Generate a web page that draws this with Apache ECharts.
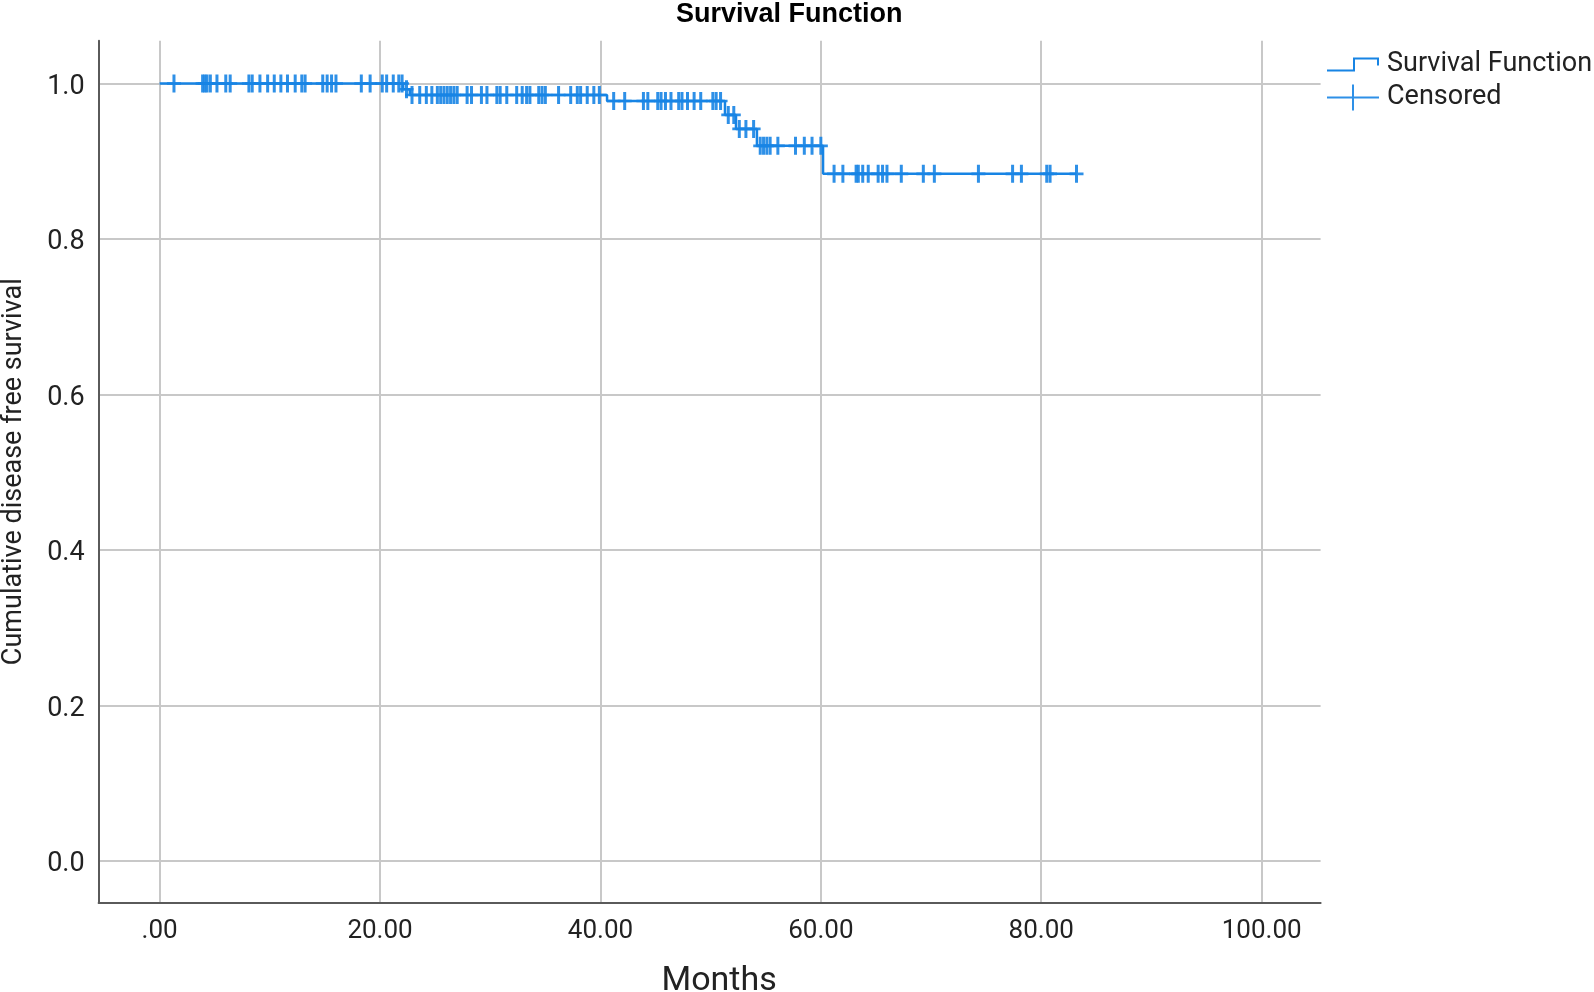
<!DOCTYPE html>
<html>
<head>
<meta charset="utf-8">
<script src="https://cdn.jsdelivr.net/npm/echarts@6/dist/echarts.min.js"></script>
<style>
html,body{margin:0;padding:0;background:#fff;}
#chart{width:1594px;height:992px;}
</style>
</head>
<body>
<div id="chart"></div>
<script>
// Kaplan-Meier step function: event times and survival after each event
var eventTimes = [0, 22.1, 22.7, 40.6, 51.3, 52.3, 54.2, 60.2, 83.2];
var survival   = [1, 0.9926, 0.9851, 0.9775, 0.9596, 0.9416, 0.9198, 0.8838, 0.8838];

// Censored observation times (months)
var censorTimes = [
  1.3, 3.9, 4.1, 4.3, 4.6, 5.2, 6.0, 6.4, 8.1, 8.4, 9.1, 9.8, 10.4, 11.0, 11.6, 12.3, 12.9, 13.2,
  14.8, 15.2, 15.6, 16.0, 18.3, 19.1, 20.2, 20.6, 21.2, 21.7, 22.0,
  22.4,
  22.9, 23.6, 24.2, 24.7, 25.2, 25.5, 25.8, 26.1, 26.4, 26.7, 27.0, 27.9, 28.3, 29.2, 29.7, 30.6,
  30.9, 31.5, 32.4, 32.9, 33.3, 33.6, 34.4, 34.7, 35.0, 36.2, 37.3, 37.9, 38.2, 38.8, 39.4, 39.9,
  41.2, 42.2, 43.9, 44.3, 45.2, 45.5, 45.9, 46.4, 47.1, 47.4, 47.9, 48.5, 49.1, 50.2, 50.5, 50.9,
  51.6, 52.1,
  52.6, 53.2, 53.9,
  54.5, 54.8, 55.1, 55.4, 56.1, 57.7, 58.5, 59.2, 60.0,
  61.2, 62.0, 63.2, 63.4, 63.8, 64.3, 65.2, 65.6, 66.0, 67.3, 69.3, 70.3, 74.3, 77.4, 78.2, 80.5, 80.8, 83.2
];

var xTicks = [0, 20, 40, 60, 80, 100];
var yTicks = [0, 0.2, 0.4, 0.6, 0.8, 1.0];

var blue = '#1784e4';

function survAt(t) {
  var s = survival[0];
  for (var i = 0; i < eventTimes.length; i++) {
    if (eventTimes[i] <= t) s = survival[i];
  }
  return s;
}

var stepData = eventTimes.map(function (t, i) { return [t, survival[i]]; });
var censorData = censorTimes.map(function (t) { return [t, survAt(t)]; });

var plusPath = 'path://M-1.5,-9 L1.5,-9 L1.5,-1.3 L7,-1.3 L7,1.3 L1.5,1.3 L1.5,9 L-1.5,9 L-1.5,1.3 L-7,1.3 L-7,-1.3 L-1.5,-1.3 Z';
var stepIcon = 'path://M0,12 L26,12 L26,0 L52,0 L52,8 L50,8 L50,2 L28,2 L28,14 L0,14 Z';
var censIcon = 'path://M0,12 L25,12 L25,0 L27,0 L27,12 L52,12 L52,14 L27,14 L27,26 L25,26 L25,14 L0,14 Z';

var font = 'Roboto, "Noto Sans", sans-serif';

var chart = echarts.init(document.getElementById('chart'), null, {renderer: 'canvas'});
chart.setOption({
  animation: false,
  backgroundColor: '#ffffff',
  title: {
    text: 'Survival Function',
    left: 671,
    top: -4,
    textStyle: {fontFamily: '"Liberation Sans", Arial, sans-serif', fontWeight: 'bold', fontSize: 27, color: '#000'}
  },
  legend: [
    {
      data: [{name: 'Survival Function', icon: stepIcon}],
      left: 1322, top: 46,
      itemWidth: 52, itemHeight: 14,
      textStyle: {fontFamily: font, fontSize: 27, color: '#222', padding: [0, 0, 0, 3]},
      selectedMode: false
    },
    {
      data: [{name: 'Censored', icon: censIcon}],
      left: 1322, top: 79,
      itemWidth: 52, itemHeight: 26,
      textStyle: {fontFamily: font, fontSize: 27, color: '#222', padding: [0, 0, 0, 3]},
      selectedMode: false
    }
  ],
  grid: {left: 98.6, right: 273.4, top: 40.7, bottom: 89.3, outerBoundsMode: 'none', containLabel: false},
  xAxis: {
    type: 'value',
    min: -5.54, max: 105.35,
    name: 'Months',
    nameLocation: 'middle',
    nameGap: 62,
    nameTextStyle: {fontFamily: font, fontSize: 34, color: '#222', padding: [0, 0, 0, 19]},
    axisLine: {show: true, onZero: false, lineStyle: {color: '#5a5a5a', width: 2}},
    axisTick: {show: false, customValues: xTicks},
    axisLabel: {
      customValues: xTicks,
      fontFamily: font, fontSize: 26, color: '#222', margin: 16,
      formatter: function (v) { return v === 0 ? '.00' : v.toFixed(2); }
    },
    splitLine: {show: true, lineStyle: {color: '#c8c8c8', width: 2}}
  },
  yAxis: {
    type: 'value',
    min: -0.0535, max: 1.055,
    name: 'Cumulative disease free survival',
    nameLocation: 'middle',
    nameGap: 71,
    nameTextStyle: {fontFamily: font, fontSize: 27, color: '#222'},
    axisLine: {show: true, onZero: false, lineStyle: {color: '#5a5a5a', width: 2}},
    axisTick: {show: false, customValues: yTicks},
    axisLabel: {
      customValues: yTicks,
      fontFamily: font, fontSize: 27, color: '#222', margin: 14,
      formatter: function (v) { return '{a|' + v.toFixed(1) + '}'; },
      rich: {a: {fontFamily: font, fontSize: 27, color: '#222', padding: [7, 0, 0, 0]}}
    },
    splitLine: {show: true, lineStyle: {color: '#c8c8c8', width: 2}}
  },
  series: [
    {
      name: 'Survival Function',
      type: 'line',
      step: 'end',
      showSymbol: false,
      symbol: 'none',
      data: stepData,
      lineStyle: {color: blue, width: 2.5},
      itemStyle: {color: blue},
      z: 3
    },
    {
      name: 'Censored',
      type: 'scatter',
      symbol: plusPath,
      symbolSize: [14, 18],
      data: censorData,
      itemStyle: {color: blue, opacity: 0.9},
      z: 4
    }
  ]
});
</script>
</body>
</html>
